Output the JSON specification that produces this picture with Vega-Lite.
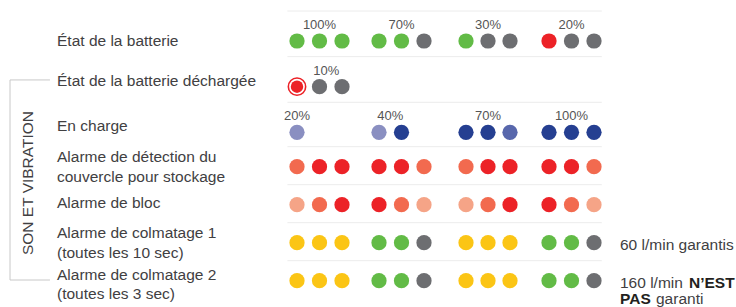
{
  "$schema": "https://vega.github.io/schema/vega-lite/v6.json",
  "width": 736,
  "height": 307,
  "padding": 0,
  "autosize": {"type": "none"},
  "background": "white",
  "config": {"view": {"stroke": null}, "text": {"font": "Liberation Sans"}},
  "datasets": {
    "rows": [
      {"r": 1, "libelle": "État de la batterie"},
      {"r": 2, "libelle": "État de la batterie déchargée"},
      {"r": 3, "libelle": "En charge"},
      {"r": 4, "libelle": "Alarme de détection du\ncouvercle pour stockage"},
      {"r": 5, "libelle": "Alarme de bloc"},
      {"r": 6, "libelle": "Alarme de colmatage 1\n(toutes les 10 sec)"},
      {"r": 7, "libelle": "Alarme de colmatage 2\n(toutes les 3 sec)"}
    ],
    "dots": [
      {"r": 1, "slot": 1, "couleur": "vert", "anneau": false},
      {"r": 1, "slot": 2, "couleur": "vert", "anneau": false},
      {"r": 1, "slot": 3, "couleur": "vert", "anneau": false},
      {"r": 1, "slot": 4, "couleur": "vert", "anneau": false},
      {"r": 1, "slot": 5, "couleur": "vert", "anneau": false},
      {"r": 1, "slot": 6, "couleur": "gris", "anneau": false},
      {"r": 1, "slot": 7, "couleur": "vert", "anneau": false},
      {"r": 1, "slot": 8, "couleur": "gris", "anneau": false},
      {"r": 1, "slot": 9, "couleur": "gris", "anneau": false},
      {"r": 1, "slot": 10, "couleur": "rouge", "anneau": false},
      {"r": 1, "slot": 11, "couleur": "gris", "anneau": false},
      {"r": 1, "slot": 12, "couleur": "gris", "anneau": false},
      {"r": 2, "slot": 1, "couleur": "rouge", "anneau": true},
      {"r": 2, "slot": 2, "couleur": "gris", "anneau": false},
      {"r": 2, "slot": 3, "couleur": "gris", "anneau": false},
      {"r": 3, "slot": 1, "couleur": "lavande", "anneau": false},
      {"r": 3, "slot": 4, "couleur": "lavande", "anneau": false},
      {"r": 3, "slot": 5, "couleur": "bleu", "anneau": false},
      {"r": 3, "slot": 7, "couleur": "bleu", "anneau": false},
      {"r": 3, "slot": 8, "couleur": "bleu", "anneau": false},
      {"r": 3, "slot": 9, "couleur": "bleu moyen", "anneau": false},
      {"r": 3, "slot": 10, "couleur": "bleu", "anneau": false},
      {"r": 3, "slot": 11, "couleur": "bleu", "anneau": false},
      {"r": 3, "slot": 12, "couleur": "bleu", "anneau": false},
      {"r": 4, "slot": 1, "couleur": "corail", "anneau": false},
      {"r": 4, "slot": 2, "couleur": "rouge", "anneau": false},
      {"r": 4, "slot": 3, "couleur": "rouge", "anneau": false},
      {"r": 4, "slot": 4, "couleur": "rouge", "anneau": false},
      {"r": 4, "slot": 5, "couleur": "rouge", "anneau": false},
      {"r": 4, "slot": 6, "couleur": "corail", "anneau": false},
      {"r": 4, "slot": 7, "couleur": "corail", "anneau": false},
      {"r": 4, "slot": 8, "couleur": "rouge", "anneau": false},
      {"r": 4, "slot": 9, "couleur": "rouge", "anneau": false},
      {"r": 4, "slot": 10, "couleur": "rouge", "anneau": false},
      {"r": 4, "slot": 11, "couleur": "rouge", "anneau": false},
      {"r": 4, "slot": 12, "couleur": "corail", "anneau": false},
      {"r": 5, "slot": 1, "couleur": "saumon", "anneau": false},
      {"r": 5, "slot": 2, "couleur": "corail", "anneau": false},
      {"r": 5, "slot": 3, "couleur": "rouge", "anneau": false},
      {"r": 5, "slot": 4, "couleur": "rouge", "anneau": false},
      {"r": 5, "slot": 5, "couleur": "corail", "anneau": false},
      {"r": 5, "slot": 6, "couleur": "saumon", "anneau": false},
      {"r": 5, "slot": 7, "couleur": "saumon", "anneau": false},
      {"r": 5, "slot": 8, "couleur": "corail", "anneau": false},
      {"r": 5, "slot": 9, "couleur": "rouge", "anneau": false},
      {"r": 5, "slot": 10, "couleur": "rouge", "anneau": false},
      {"r": 5, "slot": 11, "couleur": "corail", "anneau": false},
      {"r": 5, "slot": 12, "couleur": "saumon", "anneau": false},
      {"r": 6, "slot": 1, "couleur": "jaune", "anneau": false},
      {"r": 6, "slot": 2, "couleur": "jaune", "anneau": false},
      {"r": 6, "slot": 3, "couleur": "jaune", "anneau": false},
      {"r": 6, "slot": 4, "couleur": "vert", "anneau": false},
      {"r": 6, "slot": 5, "couleur": "vert", "anneau": false},
      {"r": 6, "slot": 6, "couleur": "gris", "anneau": false},
      {"r": 6, "slot": 7, "couleur": "jaune", "anneau": false},
      {"r": 6, "slot": 8, "couleur": "jaune", "anneau": false},
      {"r": 6, "slot": 9, "couleur": "jaune", "anneau": false},
      {"r": 6, "slot": 10, "couleur": "vert", "anneau": false},
      {"r": 6, "slot": 11, "couleur": "vert", "anneau": false},
      {"r": 6, "slot": 12, "couleur": "gris", "anneau": false},
      {"r": 7, "slot": 1, "couleur": "jaune", "anneau": false},
      {"r": 7, "slot": 2, "couleur": "jaune", "anneau": false},
      {"r": 7, "slot": 3, "couleur": "jaune", "anneau": false},
      {"r": 7, "slot": 4, "couleur": "vert", "anneau": false},
      {"r": 7, "slot": 5, "couleur": "vert", "anneau": false},
      {"r": 7, "slot": 6, "couleur": "gris", "anneau": false},
      {"r": 7, "slot": 7, "couleur": "jaune", "anneau": false},
      {"r": 7, "slot": 8, "couleur": "jaune", "anneau": false},
      {"r": 7, "slot": 9, "couleur": "jaune", "anneau": false},
      {"r": 7, "slot": 10, "couleur": "vert", "anneau": false},
      {"r": 7, "slot": 11, "couleur": "vert", "anneau": false},
      {"r": 7, "slot": 12, "couleur": "gris", "anneau": false}
    ],
    "pct": [
      {"r": 1, "slot": 2, "texte": "100%"},
      {"r": 1, "slot": 5, "texte": "70%"},
      {"r": 1, "slot": 8, "texte": "30%"},
      {"r": 1, "slot": 11, "texte": "20%"},
      {"r": 2, "slot": 2.3, "texte": "10%"},
      {"r": 3, "slot": 1, "texte": "20%"},
      {"r": 3, "slot": 4.5, "texte": "40%"},
      {"r": 3, "slot": 8, "texte": "70%"},
      {"r": 3, "slot": 11, "texte": "100%"}
    ],
    "section": [{"titre": "SON ET VIBRATION", "de": 2, "a": 7}],
    "notes": [
      {"r": 6, "partie": "n1", "texte": "60 l/min garantis"},
      {"r": 7, "partie": "n1", "texte": "160 l/min"},
      {"r": 7, "partie": "b1", "texte": "N’EST"},
      {"r": 7, "partie": "b2", "texte": "PAS"},
      {"r": 7, "partie": "n2", "texte": "garanti"}
    ]
  },
  "encoding": {
    "x": {"type": "quantitative", "axis": null, "scale": {"domain": [-1, 0, 1, 3, 4, 6, 7, 9, 10, 12, 13], "range": [10, 57, 297, 342, 379, 424, 466, 510, 549, 594, 620], "zero": false, "nice": false}},
    "y": {"type": "quantitative", "axis": null, "scale": {"domain": [1, 3, 4, 7], "range": [41, 132.3, 166.7, 280.7], "zero": false, "nice": false}}
  },
  "layer": [
    {
      "data": {"name": "rows"},
      "transform": [{"filter": "datum.r <= 3"}],
      "mark": {"type": "rule", "color": "#ececec", "strokeWidth": 1, "yOffset": -30},
      "encoding": {"x": {"datum": 0.96}, "x2": {"datum": 12.3}, "y": {"field": "r"}}
    },
    {
      "data": {"name": "rows"},
      "transform": [{"filter": "datum.r > 3"}],
      "mark": {"type": "rule", "color": "#ececec", "strokeWidth": 1, "yOffset": -20},
      "encoding": {"x": {"datum": 0.96}, "x2": {"datum": 12.3}, "y": {"field": "r"}}
    },
    {
      "data": {"name": "section"},
      "mark": {"type": "rule", "color": "#c8c8c8", "strokeWidth": 1, "yOffset": -6.7, "y2Offset": -0.7},
      "encoding": {"x": {"datum": -1}, "y": {"field": "de"}, "y2": {"field": "a"}}
    },
    {
      "data": {"name": "section"},
      "mark": {"type": "rule", "color": "#c8c8c8", "strokeWidth": 1, "yOffset": -6.7},
      "encoding": {"x": {"datum": -1}, "x2": {"datum": -0.15}, "y": {"field": "de"}}
    },
    {
      "data": {"name": "section"},
      "mark": {"type": "rule", "color": "#c8c8c8", "strokeWidth": 1, "yOffset": -0.7},
      "encoding": {"x": {"datum": -1}, "x2": {"datum": -0.15}, "y": {"field": "a"}}
    },
    {
      "data": {"name": "section"},
      "mark": {"type": "text", "angle": 270, "align": "center", "baseline": "middle", "fontSize": 15.5, "color": "#414042"},
      "encoding": {"x": {"datum": -0.61}, "y": {"datum": 4.43}, "text": {"field": "titre"}}
    },
    {
      "data": {"name": "rows"},
      "transform": [{"filter": "datum.r == 1"}],
      "mark": {"type": "text", "align": "left", "baseline": "middle", "fontSize": 15.5, "color": "#414042"},
      "encoding": {"x": {"datum": 0}, "y": {"field": "r"}, "text": {"field": "libelle"}}
    },
    {
      "data": {"name": "rows"},
      "transform": [{"filter": "datum.r == 4 || datum.r == 6"}],
      "mark": {"type": "text", "align": "left", "baseline": "middle", "fontSize": 15.5, "color": "#414042", "lineBreak": "\n", "lineHeight": 19.5, "dy": -9.7},
      "encoding": {"x": {"datum": 0}, "y": {"field": "r"}, "text": {"field": "libelle"}}
    },
    {
      "data": {"name": "rows"},
      "transform": [{"filter": "datum.r == 2 || datum.r == 3"}],
      "mark": {"type": "text", "align": "left", "baseline": "middle", "fontSize": 15.5, "color": "#414042", "dy": -6},
      "encoding": {"x": {"datum": 0}, "y": {"field": "r"}, "text": {"field": "libelle"}}
    },
    {
      "data": {"name": "rows"},
      "transform": [{"filter": "datum.r == 5"}],
      "mark": {"type": "text", "align": "left", "baseline": "middle", "fontSize": 15.5, "color": "#414042", "dy": -2},
      "encoding": {"x": {"datum": 0}, "y": {"field": "r"}, "text": {"field": "libelle"}}
    },
    {
      "data": {"name": "rows"},
      "transform": [{"filter": "datum.r == 7"}],
      "mark": {"type": "text", "align": "left", "baseline": "middle", "fontSize": 15.5, "color": "#414042", "lineBreak": "\n", "lineHeight": 19, "dy": -5.7},
      "encoding": {"x": {"datum": 0}, "y": {"field": "r"}, "text": {"field": "libelle"}}
    },
    {
      "data": {"name": "dots"},
      "transform": [{"filter": "!datum.anneau"}],
      "mark": {"type": "circle", "size": 232, "opacity": 1},
      "encoding": {
        "x": {"field": "slot"},
        "y": {"field": "r"},
        "color": {"field": "couleur", "type": "nominal", "legend": null,
          "scale": {"domain": ["vert", "gris", "rouge", "corail", "saumon", "jaune", "bleu", "lavande", "bleu moyen"],
                    "range": ["#62bb46", "#6d6e71", "#ec2227", "#f26a4f", "#f5a487", "#fbc515", "#253f91", "#8a8fc1", "#5867ac"]}}
      }
    },
    {
      "data": {"name": "dots"},
      "transform": [{"filter": "datum.anneau"}],
      "mark": {"type": "circle", "size": 300, "filled": false, "stroke": "#ec2227", "strokeWidth": 1.6, "opacity": 1},
      "encoding": {"x": {"field": "slot"}, "y": {"field": "r"}}
    },
    {
      "data": {"name": "dots"},
      "transform": [{"filter": "datum.anneau"}],
      "mark": {"type": "circle", "size": 155, "color": "#ec2227", "opacity": 1},
      "encoding": {"x": {"field": "slot"}, "y": {"field": "r"}}
    },
    {
      "data": {"name": "pct"},
      "mark": {"type": "text", "align": "center", "baseline": "middle", "fontSize": 13, "color": "#555555", "dy": -16},
      "encoding": {"x": {"field": "slot"}, "y": {"field": "r"}, "text": {"field": "texte"}}
    },
    {
      "data": {"name": "notes"},
      "transform": [{"filter": "datum.partie == 'n1'"}],
      "mark": {"type": "text", "align": "left", "baseline": "middle", "fontSize": 15.5, "color": "#414042", "dy": 2},
      "encoding": {"x": {"datum": 13}, "y": {"field": "r"}, "text": {"field": "texte"}}
    },
    {
      "data": {"name": "notes"},
      "transform": [{"filter": "datum.partie == 'b1'"}],
      "mark": {"type": "text", "align": "left", "baseline": "middle", "fontSize": 15.5, "fontWeight": "bold", "color": "#231f20", "dy": 2, "dx": 69},
      "encoding": {"x": {"datum": 13}, "y": {"field": "r"}, "text": {"field": "texte"}}
    },
    {
      "data": {"name": "notes"},
      "transform": [{"filter": "datum.partie == 'b2'"}],
      "mark": {"type": "text", "align": "left", "baseline": "middle", "fontSize": 15.5, "fontWeight": "bold", "color": "#231f20", "dy": 18.3},
      "encoding": {"x": {"datum": 13}, "y": {"field": "r"}, "text": {"field": "texte"}}
    },
    {
      "data": {"name": "notes"},
      "transform": [{"filter": "datum.partie == 'n2'"}],
      "mark": {"type": "text", "align": "left", "baseline": "middle", "fontSize": 15.5, "color": "#414042", "dy": 18.3, "dx": 36},
      "encoding": {"x": {"datum": 13}, "y": {"field": "r"}, "text": {"field": "texte"}}
    }
  ]
}
